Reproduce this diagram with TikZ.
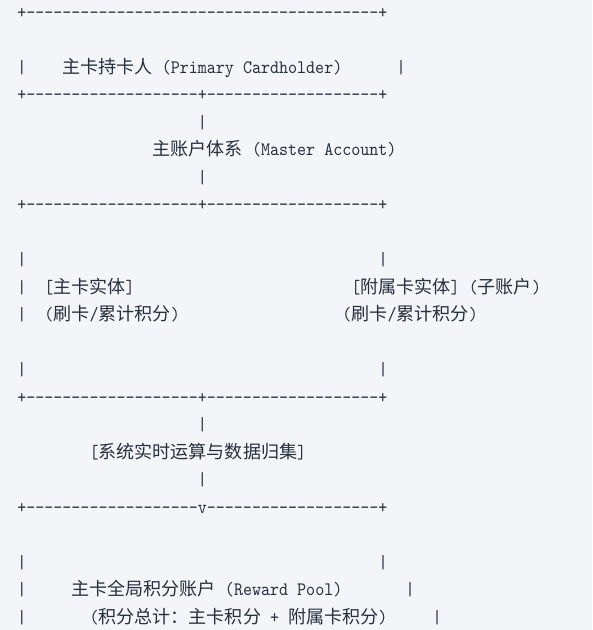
\documentclass[tikz,border=0pt]{standalone}
\usepackage{fontspec}
\newfontfamily\boxfont[FakeStretch=0.905,Ligatures=TeXOff]{lmmono10-regular.otf}
\newfontfamily\hanfont{Noto Sans CJK SC}
\definecolor{pagebg}{HTML}{F3F5F8}
\definecolor{inkdark}{HTML}{27303D}
\newcommand{\zh}[1]{{\hanfont\fontsize{18.06pt}{22pt}\selectfont #1}}
\tikzset{
  ascii/.style={font=\boxfont\fontsize{19pt}{22pt}\selectfont, text=inkdark,
                inner sep=0pt, anchor=base west}
}

\begin{document}
\begin{tikzpicture}[x=9.03pt, y=-27.5pt]

% page (one column = 9.03pt, one row = 27.5pt)
\fill[pagebg] (-1.894,-0.665) rectangle (63.665,22.244);
\useasboundingbox (-1.894,-0.665) rectangle (63.665,22.244);

% ------------------------------------------------------------
% PRIMARY CARDHOLDER
% ------------------------------------------------------------
\node[ascii] (topRule) at (0,0) {+---------------------------------------+};
\node[ascii] (holderL) at (0,2) {|};
\node[ascii] (holder) at (5,2) {\zh{主卡持卡人} (Primary Cardholder)};
\node[ascii] (holderR) at (42,2) {|};
\node[ascii] (ruleA) at (0,3) {+-------------------+-------------------+};

% ------------------------------------------------------------
% MASTER ACCOUNT
% ------------------------------------------------------------
\node[ascii] (stemA) at (20,4) {|};
\node[ascii] (master) at (15,5) {\zh{主账户体系} (Master Account)};
\node[ascii] (stemB) at (20,6) {|};
\node[ascii] (ruleB) at (0,7) {+-------------------+-------------------+};

% ------------------------------------------------------------
% CARD ENTITIES
% ------------------------------------------------------------
\node[ascii] (cardL1) at (0,9) {|};
\node[ascii] (cardR1) at (40,9) {|};
\node[ascii] (cardL2) at (0,10) {|};
\node[ascii] (mainCard) at (3,10) {[\zh{主卡实体}]};
\node[ascii] (subCard) at (37,10) {[\zh{附属卡实体}] (\zh{子账户})};
\node[ascii] (cardL3) at (0,11) {|};
\node[ascii] (mainUse) at (3,11) {(\zh{刷卡}/\zh{累计积分})};
\node[ascii] (subUse) at (36,11) {(\zh{刷卡}/\zh{累计积分})};
\node[ascii] (cardL4) at (0,13) {|};
\node[ascii] (cardR4) at (40,13) {|};
\node[ascii] (ruleC) at (0,14) {+-------------------+-------------------+};

% ------------------------------------------------------------
% AGGREGATION
% ------------------------------------------------------------
\node[ascii] (stemC) at (20,15) {|};
\node[ascii] (collect) at (8,16) {[\zh{系统实时运算与数据归集}]};
\node[ascii] (stemD) at (20,17) {|};
\node[ascii] (ruleD) at (0,18) {+-------------------v-------------------+};

% ------------------------------------------------------------
% REWARD POOL
% ------------------------------------------------------------
\node[ascii] (poolL1) at (0,20) {|};
\node[ascii] (poolR1) at (40,20) {|};
\node[ascii] (poolL2) at (0,21) {|};
\node[ascii] (pool) at (6,21) {\zh{主卡全局积分账户} (Reward Pool)};
\node[ascii] (poolR2) at (43,21) {|};
\node[ascii] (poolL3) at (0,22) {|};
\node[ascii] (poolSum) at (8,22) {(\zh{积分总计：主卡积分} + \zh{附属卡积分})};
\node[ascii] (poolR3) at (46,22) {|};

\end{tikzpicture}
\end{document}
